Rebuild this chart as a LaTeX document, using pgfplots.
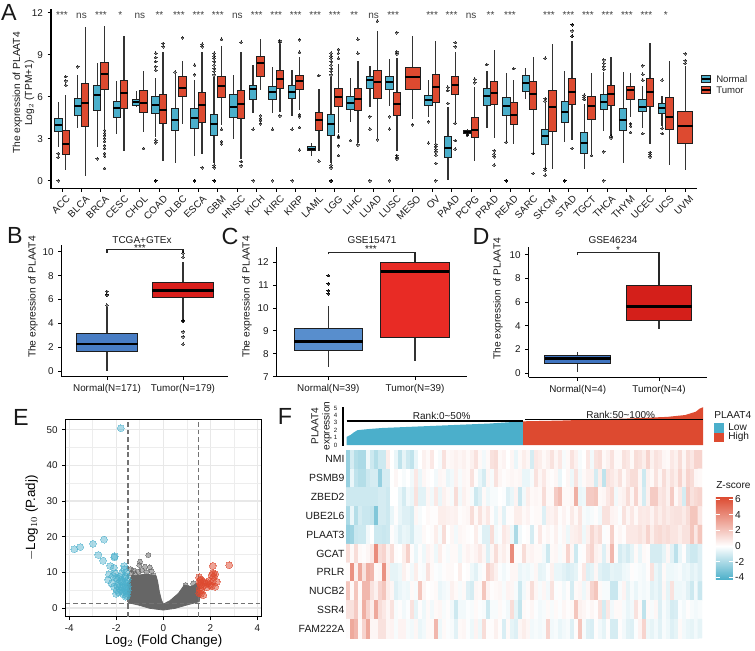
\documentclass[border=0pt]{standalone}
\usepackage{fontspec}
\setmainfont{Liberation Sans}
\usepackage{pgfplots}
\pgfplotsset{compat=1.18}
\usepgfplotslibrary{statistics}
\definecolor{nblue}{RGB}{75,175,203}
\definecolor{tred}{RGB}{221,74,48}
\definecolor{inka}{RGB}{30,30,30}
\newcommand{\pxl}{0.75pt}
\newcommand{\medw}{1.5pt}
\newcommand{\bx}[9]{\addplot[draw=inka,mark=*,mark size=1pt,
    mark options={draw=black,fill=black,opacity=.5,line width=0pt},
    boxplot/draw direction=y,
    boxplot/box extend=#2,boxplot/every box/.style={draw=inka,fill=#3,line width=.75pt},
    boxplot/every median/.style={draw=black,line width=\medw},
    boxplot prepared={draw position={#1},lower whisker=#4,lower quartile=#5,median=#6,upper quartile=#7,upper whisker=#8}]
    coordinates {#9};}
\newcommand{\nbox}[7]{\bx{#1-0.19}{.38}{nblue}{#2}{#3}{#4}{#5}{#6}{#7}}
\newcommand{\tbox}[7]{\bx{#1+0.19}{.38}{tred}{#2}{#3}{#4}{#5}{#6}{#7}}
\newcommand{\onebox}[7]{\bx{#1}{.76}{tred}{#2}{#3}{#4}{#5}{#6}{#7}}
\newcommand{\sg}[2]{\node[font=\fontsize{7.5}{8}\selectfont,text=black!75] at (axis cs:#1,11.8) {#2};}
\pgfplotsset{
  panel/.style={scale only axis,axis lines=left,axis line style={-,line width=.8pt,black},
    tick style={black,line width=.7pt},major tick length=2.5pt,tick align=outside,
    clip=false,
    /pgf/number format/assume math mode=true,
    tick label style={font=\fontsize{7.4}{8}\selectfont,text=black!90},
    label style={font=\fontsize{7.7}{9}\selectfont,text=black!90},
    boxplot/whisker extend=0,
    boxplot/every whisker/.style={line width=1pt,draw=black!80},
  },
  twobox/.style={panel,xtick={0,1},ymajorgrids=false,ylabel={The expression of PLAAT4}},
}
\begin{document}
\begin{tikzpicture}
\useasboundingbox (0,0) rectangle (755*\pxl,-650*\pxl);

% A
\begin{axis}[panel,at={(51*\pxl,-9*\pxl)},anchor=north west,width=646*\pxl,height=179.5*\pxl,
  xmin=-0.565,xmax=32.6,ymin=-0.557,ymax=12.26,
  ytick={0,3,6,9,12},xtick={0,...,32},
  xticklabels={ACC,BLCA,BRCA,CESC,CHOL,COAD,DLBC,ESCA,GBM,HNSC,KICH,KIRC,KIRP,LAML,LGG,LIHC,LUAD,LUSC,MESO,OV,PAAD,PCPG,PRAD,READ,SARC,SKCM,STAD,TGCT,THCA,THYM,UCEC,UCS,UVM},
  xticklabel style={rotate=45,anchor=north east,inner sep=1pt,xshift=1.5pt,yshift=-2.5pt},
  ylabel={The expression of PLAAT4\\Log$_2$ (TPM+1)},
  ylabel style={align=center,at={(axis description cs:-0.0426,0.532)},anchor=center}]
\nbox{0}{2.43}{3.5}{4.0}{4.45}{5.64}{(0,1.95)(0,1.67)(0,0)}
\tbox{0}{0.76}{1.88}{2.62}{3.6}{6.1}{(0,7.43)(0,7.12)(0,6.83)}
\nbox{1}{3.76}{4.69}{5.33}{5.88}{7.55}{(0,8.14)}
\tbox{1}{0.36}{3.9}{5.52}{6.95}{10.95}{}
\nbox{2}{2.38}{5.0}{6.12}{6.83}{8.43}{(0,1.57)}
\tbox{2}{3.74}{6.52}{7.6}{8.45}{11.05}{(0,3.6)(0,3.4)(0,3.2)(0,3.0)(0,2.8)(0,2.5)(0,2.3)(0,1.95)(0,1.76)(0,0.88)}
\nbox{3}{3.33}{4.52}{5.2}{5.69}{7.1}{}
\tbox{3}{2.12}{5.12}{6.24}{7.19}{10.33}{}
\nbox{4}{5.29}{5.36}{5.64}{5.83}{6.4}{}
\tbox{4}{3.5}{4.9}{5.57}{6.43}{7.86}{(0,2.31)}
\nbox{5}{3.14}{4.81}{5.43}{6.02}{7.3}{(0,9.1)(0,8.8)(0,8.5)(0,8.14)(0,7.9)(0,2.9)(0,2.7)(0,0)(0,0)(0,0)}
\tbox{5}{1.43}{4.1}{5.07}{6.19}{9.2}{(0,9.8)(0,9.57)}
\nbox{6}{1.26}{3.55}{4.31}{5.19}{7.6}{(0,7.76)}
\tbox{6}{4.07}{6.02}{6.6}{7.45}{8.57}{(0,10.2)}
\nbox{7}{1.79}{3.76}{4.5}{5.14}{7.19}{(0,8.26)(0,7.57)(0,0)(0,0)(0,0)}
\tbox{7}{1.9}{4.19}{5.4}{6.31}{9.17}{(0,9.74)(0,9.57)(0,0.93)}
\nbox{8}{1.24}{3.26}{4.02}{4.71}{7.4}{(0,9.1)(0,8.9)(0,8.74)(0,8.5)(0,8.26)(0,8.0)(0,7.8)(0,7.55)(0,1.1)(0,0.93)(0,0)(0,0)(0,0)}
\tbox{8}{3.98}{5.95}{6.76}{7.45}{9.62}{(0,10.1)(0,3.67)(0,2.8)(0,2.62)}
\nbox{9}{2.98}{4.48}{5.24}{6.14}{7.57}{}
\tbox{9}{1.55}{4.43}{5.5}{6.45}{9.2}{(0,9.88)(0,1.36)(0,1.07)}
\nbox{10}{4.81}{5.81}{6.52}{6.83}{8.26}{(0,3.67)(0,0)}
\tbox{10}{6.48}{7.43}{8.38}{8.86}{10.12}{(0,4.64)(0,4.45)(0,4.29)(0,4.05)}
\nbox{11}{4.81}{5.81}{6.36}{6.76}{8.14}{(0,3.67)(0,0)}
\tbox{11}{4.93}{6.57}{7.24}{7.86}{9.74}{(0,9.98)(0,9.88)(0,4.62)}
\nbox{12}{4.62}{5.86}{6.36}{6.79}{7.9}{(0,3.67)(0,0)}
\tbox{12}{5.05}{6.52}{7.14}{7.48}{8.86}{(0,10.05)(0,9.17)(0,4.7)(0,4.57)(0,3.8)(0,2.19)}
\nbox{13}{1.79}{2.14}{2.29}{2.45}{2.67}{}
\tbox{13}{2.12}{3.57}{4.33}{4.9}{6.55}{(0,7.5)(0,1.4)}
\nbox{14}{1.24}{3.26}{4.02}{4.71}{7.4}{(0,9.1)(0,8.9)(0,8.74)(0,8.5)(0,8.26)(0,8.0)(0,7.8)(0,7.55)(0,1.1)(0,0.93)(0,0)(0,0)(0,0)}
\tbox{14}{3.38}{5.29}{5.98}{6.6}{8.33}{(0,9.38)(0,9.1)(0,8.74)(0,3.19)(0,3.1)(0,2.48)(0,1.79)}
\nbox{15}{4.17}{5.1}{5.52}{6.0}{7.31}{(0,2.88)}
\tbox{15}{2.67}{5.0}{5.86}{6.6}{8.57}{(0,10.1)(0,9.1)(0,2.55)}
\nbox{16}{5.29}{6.55}{7.19}{7.43}{8.19}{(0,4.57)(0,3.69)(0,0)}
\tbox{16}{3.02}{5.88}{7.05}{7.86}{10.71}{(0,11.4)(0,2.93)}
\nbox{17}{5.33}{6.52}{7.05}{7.43}{8.69}{(0,4.57)(0,3.69)(0,0)}
\tbox{17}{2.14}{4.62}{5.48}{6.29}{8.74}{(0,10.57)(0,9.2)(0,9.05)(0,1.8)(0,1.67)(0,1.55)}
\onebox{18}{4.38}{6.52}{7.4}{8.07}{10.33}{(0,3.98)}
\nbox{19}{4.57}{5.36}{5.76}{6.1}{7.19}{(0,4.21)(0,2.69)}
\tbox{19}{2.79}{5.6}{6.67}{7.55}{9.98}{(0,2.6)(0,2.43)(0,2.24)(0,2.05)(0,1.83)(0,1.24)(0,0)}
\nbox{20}{0.02}{1.64}{2.31}{3.14}{5.29}{(0,6.67)(0,6.43)(0,5.52)}
\tbox{20}{4.21}{6.17}{6.81}{7.43}{9.17}{(0,9.86)(0,9.57)(0,4.1)(0,2.86)(0,2.26)}
\nbox{21}{3.33}{3.4}{3.5}{3.62}{3.7}{(0,3.3)(0,3.25)}
\tbox{21}{1.4}{3.05}{3.62}{4.52}{6.67}{(0,7.24)(0,7.0)}
\nbox{22}{3.74}{5.38}{6.05}{6.55}{7.81}{(0,8.29)}
\tbox{22}{3.07}{5.45}{6.26}{7.07}{9.33}{(0,2.14)(0,1.9)(0,1.7)(0,1.12)}
\nbox{23}{2.79}{4.69}{5.33}{5.95}{7.71}{(0,2.76)(0,0)(0,0)(0,0)}
\tbox{23}{2.64}{4.0}{4.69}{5.55}{7.19}{(0,8.0)}
\nbox{24}{5.83}{6.38}{6.95}{7.5}{8.07}{}
\tbox{24}{1.83}{5.05}{6.19}{7.1}{8.81}{(0,1.95)(0,0.52)}
\nbox{25}{0.93}{2.6}{3.21}{3.69}{5.52}{(0,8.74)(0,5.86)(0,5.69)(0,0.88)(0,0.76)(0,0.4)}
\tbox{25}{0.86}{3.52}{5.24}{6.43}{9.74}{}
\nbox{26}{2.79}{4.14}{4.88}{5.64}{7.86}{(0,0)(0,0)(0,0)}
\tbox{26}{2.9}{5.43}{6.33}{7.31}{10}{(0,11.14)(0,11.14)(0,10.69)(0,10.33)(0,10.33)(0,2.31)}
\nbox{27}{0.81}{1.95}{2.67}{3.45}{5.5}{(0,6.1)(0,5.95)(0,5.8)}
\tbox{27}{1.9}{4.38}{5.33}{6.02}{7.69}{(0,1.79)}
\nbox{28}{3.55}{5.07}{5.64}{6.17}{7.79}{(0,8.62)(0,8.38)(0,8.14)(0,7.95)(0,2.07)(0,0)}
\tbox{28}{3.21}{5.38}{6.21}{6.79}{8.81}{(0,3.19)(0,3.05)}
\nbox{29}{1.26}{3.55}{4.33}{5.19}{7.76}{}
\tbox{29}{4.52}{5.83}{6.48}{6.74}{7.71}{(0,4.05)(0,3.9)(0,3.45)}
\nbox{30}{3.74}{4.93}{5.29}{5.83}{6.76}{(0,8.21)(0,7.6)(0,7.19)(0,3.36)}
\tbox{30}{2.6}{5.29}{6.36}{7.31}{9.86}{(0,2.02)(0,1.88)(0,1.71)}
\nbox{31}{3.9}{4.81}{5.19}{5.48}{6.05}{(0,7.19)(0,3.74)(0,3.36)}
\tbox{31}{1.14}{3.64}{4.57}{5.95}{8.57}{}
\onebox{32}{0.76}{2.64}{3.88}{4.93}{8.21}{(0,9.05)(0,8.57)(0,8.38)}
\sg{0}{***}\sg{1}{ns}\sg{2}{***}\sg{3}{*}\sg{4}{ns}\sg{5}{**}\sg{6}{***}\sg{7}{***}\sg{8}{***}\sg{9}{ns}
\sg{10}{***}\sg{11}{***}\sg{12}{***}\sg{13}{***}\sg{14}{***}\sg{15}{**}\sg{16}{ns}\sg{17}{***}
\sg{19}{***}\sg{20}{***}\sg{21}{ns}\sg{22}{**}\sg{23}{***}\sg{25}{***}\sg{26}{***}\sg{27}{***}\sg{28}{***}\sg{29}{***}\sg{30}{***}\sg{31}{*}
\end{axis}

\renewcommand{\medw}{2pt}
% B
\begin{axis}[twobox,at={(61.7*\pxl,-245*\pxl)},anchor=north west,width=166.6*\pxl,height=131.7*\pxl,
  xmin=-0.596,xmax=1.596,ymin=-0.48,ymax=10.58,ytick={0,2,...,10},
  xticklabels={Normal(N=171),Tumor(N=179)},
  ylabel style={at={(axis description cs:-0.172,0.605)},anchor=center}]
\definecolor{bb}{RGB}{72,125,196}\definecolor{br}{RGB}{217,31,28}
\bx{0}{.807}{bb}{0}{1.6}{2.27}{3.14}{5.35}{(0,5.52)(0,6.39)(0,6.39)(0,6.67)}
\bx{1}{.807}{br}{4.15}{6.13}{6.78}{7.42}{9.13}{(0,9.9)(0,9.55)(0,4.2)(0,4.2)(0,3.3)(0,2.88)(0,2.24)}
\addplot[black!85,line width=.8pt] coordinates {(0,9.9)(0,10.17)(1,10.17)(1,9.9)};
\end{axis}

% C
\begin{axis}[twobox,at={(276.7*\pxl,-246.7*\pxl)},anchor=north west,width=190*\pxl,height=130*\pxl,
  xmin=-0.595,xmax=1.596,ymin=7,ymax=12.68,ytick={7,8,...,12},
  xticklabels={Normal(N=39),Tumor(N=39)},
  ylabel style={at={(axis description cs:-0.156,0.613)},anchor=center}]
\definecolor{cb}{RGB}{88,142,205}\definecolor{cr}{RGB}{232,43,37}
\bx{0}{.79}{cb}{7.43}{8.15}{8.55}{9.1}{10.1}{(0,11.42)(0,11.42)(0,11.06)(0,11.06)(0,10.75)(0,10.75)(0,10.62)(0,10.62)}
\bx{1}{.79}{cr}{7.7}{8.7}{11.6}{12}{12.44}{}
\addplot[black!85,line width=.8pt] coordinates {(0,12.35)(0,12.44)(1,12.44)(1,12.0)};
\end{axis}

% D
\begin{axis}[twobox,at={(528.7*\pxl,-246.7*\pxl)},anchor=north west,width=178.6*\pxl,height=130.6*\pxl,
  xmin=-0.603,xmax=1.594,ymin=-0.34,ymax=10.67,ytick={0,2,...,10},
  xticklabels={Normal(N=4),Tumor(N=4)},
  ylabel style={at={(axis description cs:-0.172,0.6)},anchor=center}]
\definecolor{db}{RGB}{63,116,192}\definecolor{dr}{RGB}{212,31,26}
\bx{0}{.81}{db}{0.14}{0.81}{1.24}{1.49}{1.77}{}
\bx{1}{.81}{dr}{3.7}{4.44}{5.62}{7.42}{7.42}{}
\addplot[black!85,line width=.8pt] coordinates {(0,9.95)(0,10.17)(1,10.17)(1,7.42)};
\end{axis}

% E
\begin{axis}[panel,axis lines=box,at={(65.7*\pxl,-419.3*\pxl)},anchor=north west,width=196*\pxl,height=197.4*\pxl,
  clip=true,xmin=-4.15,xmax=4.18,ymin=-2.43,ymax=52.9,
  xtick={-4,-2,0,2,4},ytick={0,10,...,50},minor x tick num=1,minor y tick num=1,
  minor tick length=0pt,xtick pos=bottom,ytick pos=left,
  grid=both,major grid style={line width=.9pt,black!9},minor grid style={line width=.5pt,black!7},
  axis line style={line width=1pt,black},
  xlabel={Log$_2$ (Fold Change)},ylabel={$-$Log$_{10}$ (P.adj)},
  xlabel style={at={(axis description cs:0.5,-0.123)},anchor=center},
  ylabel style={at={(axis description cs:-0.173,0.5)},anchor=center}]
\addplot[fill=black!60,draw=black!60,line width=.6pt] coordinates {
  (-1.49,1.78)(-1.52,5.05)(-1.47,7.4)(-1.35,9.07)(-1.06,9.25)(-0.71,9.53)(-0.31,9.07)(-0.24,7.38)
  (-0.17,4.58)(-0.08,2.24)(0,1.12)(0.28,2.06)(0.64,4.11)(0.89,6.45)(1.2,6.0)(1.42,6.92)(1.53,6)
  (1.56,3.2)(1.52,1.78)(0.99,0.84)(0.5,-0.09)(0,-0.56)(-0.57,-0.09)(-1.06,0.84)(-1.49,1.5)} \closedcycle;
\addplot[only marks,mark=*,mark size=1.9pt,mark options={draw=black!60,fill=black!60,opacity=.5,line width=0pt}] coordinates {
  (-0.64,14.86)(-0.99,13)(-1.02,12.06)(-1.39,10.93)(-1.27,10.47)(-0.78,11.6)(-0.57,11.4)(-0.92,10.65)
  (-0.5,10.37)(-1.2,9.53)(-1.06,10.19)(-0.71,10)(-0.42,9.07)(-1.35,9.7)(0.95,6.45)(1.27,6.9)};
\addplot[only marks,mark=*,mark size=2.6pt,mark options={draw=nblue,fill=nblue,opacity=.45,line width=0pt}] coordinates {
  (-1.81,50.4)(-3.78,16.5)(-3.53,17.1)(-2.99,18.0)(-2.52,19.2)(-2.76,14.9)(-2.56,13.3)(-2.07,14.5)(-2.08,14.2)
  (-2.25,11.8)(-2.1,11.3)(-1.66,11.8)(-1.67,10.9)(-2.31,9.5)(-2.05,9.7)(-1.77,9.7)(-2.34,7.9)(-2.2,6.9)(-2,8.5)
  (-2.15,9)(-1.9,7)(-1.95,8)(-1.85,6)(-1.8,5)(-1.7,4.5)(-1.6,3.2)(-1.55,3.5)(-2,4)(-1.98,5)(-1.9,4.4)(-1.75,7.5)
  (-1.65,8.5)(-1.6,9)(-1.55,7)(-1.6,6)(-1.52,5)(-1.7,6.5)(-1.8,7.8)(-1.55,4.2)(-1.6,4.8)(-1.65,5.5)(-1.75,5.8)
  (-1.52,6)(-1.52,8)(-2.1,6)(-1.95,6.2)(-1.85,8.8)(-1.62,7.3)(-1.7,3.8)(-1.58,10)};
\addplot[only marks,mark=*,mark size=2.6pt,mark options={draw=tred,fill=tred,opacity=.5,line width=0pt}] coordinates {
  (2.8,12)(2.1,11.8)(2.12,9.7)(2.2,9.5)(2.05,9.2)(2.15,8.8)(1.52,8.6)(1.56,7.7)(1.6,8)(2.27,7.4)(2.1,7.5)(2,6.5)
  (1.9,7)(1.8,6.8)(1.7,6.2)(1.6,6.5)(1.55,5.5)(1.62,5)(1.7,3.6)(1.6,4)(1.75,7.2)(2.2,6)(2.05,6.2)(1.85,5.8)
  (1.55,7)(1.65,7.4)(1.52,4.2)(1.95,7.6)};
\addplot[black!55,line width=.9pt,dash pattern=on 3.5pt off 2.2pt] coordinates {(-1.5,-2.43)(-1.5,52.9)};
\addplot[black!55,line width=.9pt,dash pattern=on 3.5pt off 2.2pt] coordinates {(1.5,-2.43)(1.5,52.9)};
\addplot[black!55,line width=.9pt,dash pattern=on 3.5pt off 2.2pt] coordinates {(-4.15,1.3)(4.18,1.3)};
\end{axis}

% F, ranked expression
\begin{axis}[panel,at={(343*\pxl,-406.5*\pxl)},anchor=north west,width=360*\pxl,height=38.5*\pxl,
  axis x line=none,axis y line=left,y axis line style={-},xmin=-0.0104,xmax=1,ymin=0,ymax=5.2,ytick={0,...,5},
  tick label style={font=\fontsize{4.6}{5}\selectfont},major tick length=1.5pt]
\addplot[fill=nblue,draw=none] coordinates {(0,0)(0,1.1)(0.012,1.4)(0.02,1.7)(0.03,2.0)(0.06,2.15)(0.1,2.3)(0.2,2.5)(0.3,2.7)(0.4,2.9)(0.495,3.2)(0.495,0)} \closedcycle;
\addplot[fill=tred,draw=none] coordinates {(0.495,0)(0.495,3.2)(0.6,3.3)(0.7,3.45)(0.8,3.6)(0.9,3.8)(0.95,4.05)(0.98,4.5)(0.99,4.9)(1,5.1)(1,0)} \closedcycle;
\addplot[black,line width=.9pt] coordinates {(0,3.24)(0.495,3.24)};
\addplot[black,line width=.9pt] coordinates {(0.5,3.47)(1,3.47)};
\end{axis}

% F, heatmap
\begin{axis}[scale only axis,at={(346*\pxl,-450*\pxl)},anchor=north west,width=356*\pxl,height=188*\pxl,
  xmin=-0.5,xmax=88.5,ymin=-0.5,ymax=9.5,y dir=reverse,
  axis line style={draw=none},xtick=\empty,ytick={0,...,9},major tick length=0pt,
  yticklabels={NMI,PSMB9,ZBED2,UBE2L6,PLAAT3,GCAT,PRLR,NUCB2,SSR4,FAM222A},
  yticklabel style={font=\fontsize{7.8}{8}\selectfont,text=black!90,inner sep=1pt},
  colormap={hm}{rgb255(0cm)=(75,175,201); rgb255(4.3cm)=(255,255,255); rgb255(10.6cm)=(220,74,48)},
  point meta min=-4.3,point meta max=6.3,
  colorbar,
  colorbar style={at={(1.039,0.7516)},anchor=north west,width=17*\pxl,height=83*\pxl,
    ytick={-4,-2,0,2,4,6},yticklabel pos=right,axis line style={draw=none},
    tick style={draw=white,line width=.5pt},major tick length=3pt,tick align=inside,
    /pgf/number format/assume math mode=true,
    yticklabel style={font=\fontsize{7.6}{8}\selectfont,inner sep=1.5pt,text=black!90}}]
\addplot[matrix plot*,mesh/cols=89,point meta=explicit]
  table[row sep=\\,header=false,x expr={mod(\coordindex,89)},y expr={floor((\coordindex+0.5)/89)},meta index=0] {
-2.5\\-1\\-1.8\\-2\\-2\\-.4\\-1.2\\-1.8\\-1.2\\-1.2\\.6\\0\\-.5\\-1.5\\-.6\\-1.2\\-1.5\\-.5\\0\\.5\\.2\\.8\\0\\-.2\\1\\.2\\.3\\.5\\.3\\.5\\.2\\
.5\\1\\.2\\-.3\\.2\\1\\1.2\\.2\\.4\\0\\.3\\-.5\\.2\\.6\\.3\\-1\\.8\\.6\\.2\\.5\\1\\.3\\.8\\-.2\\.2\\1\\.5\\-.2\\0\\.8\\
-.3\\1\\1.2\\.2\\.5\\1\\.2\\.2\\1\\.8\\.2\\1.2\\1\\.6\\1.5\\.5\\1\\.8\\.3\\.2\\.8\\.5\\1.2\\.3\\1.2\\.8\\1.5\\1.5\\
-2.5\\-.5\\-1.5\\-1.8\\-1.8\\-1.2\\-1\\-1\\-2.5\\-1\\-1\\0\\.3\\0\\-.2\\0\\-.3\\.8\\-.5\\.3\\.1\\0\\-.3\\.3\\.2\\-.5\\-.3\\.5\\-.2\\.3\\.2\\
1\\.1\\-.5\\-1\\.3\\-.2\\1\\.3\\.1\\.2\\.3\\.2\\.3\\-.5\\-.5\\-.2\\1\\.3\\.8\\.2\\.1\\.3\\-.5\\0\\.3\\-.4\\1\\-.3\\.2\\.5\\
.5\\-1\\.6\\-1.5\\1\\.8\\.5\\1\\.2\\.8\\1.2\\1.2\\.3\\-1.2\\.5\\.2\\1\\.3\\1.2\\.5\\1\\.6\\1.5\\.5\\1.5\\1.2\\.3\\.2\\
-1.2\\-1.2\\-1.2\\-1.2\\-1.2\\-1.2\\-1.2\\-1.2\\-1\\-1\\-1.2\\0\\0\\-.5\\-1\\-.3\\-.5\\1\\-.7\\-.7\\.3\\-.3\\.8\\-.5\\.5\\.2\\-.2\\1.2\\-.3\\.5\\.2\\
-.2\\-1.2\\-.8\\.2\\-.4\\-.2\\-.2\\0\\-.1\\-.8\\-.5\\.4\\-1.3\\-.3\\.6\\.2\\.3\\.2\\1.2\\.2\\.2\\1.8\\2.3\\.2\\.2\\.3\\2.8\\-.5\\-.4\\1.8\\
1.8\\2\\.2\\.3\\.8\\1.3\\-.3\\.3\\.5\\1.2\\.3\\1.5\\.3\\-1\\.5\\1.8\\1.8\\.8\\1\\.5\\1.8\\.2\\.8\\-1\\1.8\\1\\1.3\\1.5\\
-2\\-.5\\-1.8\\-1\\-1.3\\-1.3\\-1.4\\-3\\-1\\-1\\-1.2\\-.5\\.1\\-.5\\-.8\\-.8\\-1\\.3\\-.2\\0\\.2\\.1\\.1\\.6\\.6\\.5\\.4\\.5\\.1\\.2\\.3\\
1.2\\.2\\1\\.3\\.8\\.1\\-.5\\.2\\-.7\\.1\\.1\\.6\\.6\\.2\\.4\\.1\\.2\\.2\\-.8\\.5\\.4\\.7\\.1\\.4\\.1\\.7\\.2\\.9\\-.2\\-.3\\
-.2\\.1\\-.3\\1\\1\\.4\\.3\\-.1\\1\\.3\\.8\\.2\\.8\\.7\\.8\\.4\\1\\.6\\1\\.7\\.9\\1\\1\\.7\\1.2\\2\\2\\.8\\
-2.5\\-2.3\\-1.3\\-1.2\\-1.2\\-.3\\0\\-1.2\\-1.2\\-1.3\\-1.2\\.1\\-.3\\-.8\\-.5\\-.6\\-1\\-.3\\-.3\\.2\\0\\.1\\.6\\-.2\\1.2\\0\\.3\\-.3\\.3\\.2\\.1\\
0\\.6\\-.1\\-.8\\-.8\\1.2\\-.3\\-.1\\.8\\.5\\-.4\\-2\\-.3\\0\\.1\\-1\\.1\\.8\\.1\\.3\\.1\\.5\\-.1\\.3\\-.4\\.5\\.6\\.8\\-.4\\.5\\
1.4\\.8\\1.2\\-.1\\.1\\1.6\\.1\\.3\\.1\\.8\\.8\\.8\\1\\.7\\1.5\\.6\\1.2\\1.3\\1\\1.2\\.9\\.9\\.6\\1\\1\\2\\.8\\2\\
1.2\\.2\\1.2\\.2\\.1\\.3\\.8\\4\\1.2\\1.5\\.5\\1.2\\.1\\0\\.6\\1.6\\.1\\-.5\\.1\\-.4\\.4\\.2\\-.4\\.6\\.1\\-.2\\.2\\.2\\-.4\\.2\\.4\\
.2\\.4\\.8\\.3\\-.8\\.3\\1.2\\.3\\.6\\.2\\4\\.1\\.1\\1.2\\.3\\.4\\.2\\.2\\-.3\\-1.2\\.2\\.3\\-.2\\.2\\1.5\\.3\\-1.2\\-.1\\.1\\1\\
1.5\\.5\\.3\\-.8\\.3\\2.5\\.1\\-1\\-.7\\-1\\-.6\\.2\\-.5\\.2\\.1\\-1\\-1\\-1\\-.6\\.3\\-.7\\-1.6\\-.5\\.1\\-.9\\-1.2\\-1.2\\-.8\\
.1\\3.8\\.5\\3\\1\\2.8\\2.5\\.2\\.3\\3.8\\.6\\-.6\\-.6\\-.4\\.5\\.1\\-.3\\.6\\-.1\\-.2\\1\\.2\\-.1\\-.2\\.1\\.2\\.2\\0\\.6\\0\\.1\\
-.4\\-.7\\-.2\\.1\\1.6\\1\\.5\\-.1\\-.3\\-.1\\.3\\.3\\-.5\\-.3\\-.4\\-.2\\.3\\-.6\\-.5\\-.1\\.5\\-.5\\-.5\\-.7\\-.9\\-.8\\-.6\\.1\\.8\\-.8\\
-.6\\.3\\-.7\\-.9\\-.9\\-.6\\-.7\\-.7\\-.4\\-.3\\.1\\-.1\\-.2\\-.3\\.1\\1\\-.5\\-.8\\.2\\-.4\\-.4\\-.3\\-.2\\-.5\\-.4\\-.7\\-.5\\-.8\\
2\\.2\\2\\.2\\2.5\\2.5\\1\\.5\\1.5\\2\\.6\\.3\\-.8\\-.5\\-.3\\-.4\\.2\\-.2\\2\\.3\\0\\.1\\.2\\-.5\\-.3\\-.2\\.5\\.2\\-.2\\.2\\-.8\\
-1\\.3\\.2\\2\\.4\\.1\\.2\\.3\\-.2\\.4\\.3\\-.2\\-1.2\\-.3\\.2\\1.2\\.3\\-.2\\.3\\-.3\\1\\-.1\\.1\\-.3\\.1\\-1\\.2\\.3\\-.4\\.3\\
1.5\\2\\.2\\-.2\\-.2\\-1.3\\-1.3\\-.2\\.4\\-.6\\-.2\\-.5\\-.2\\-.3\\-.2\\-.7\\-.5\\-.8\\.3\\-.6\\1\\-.4\\-.4\\-.3\\-.7\\-1.2\\-.3\\-1.3\\
1\\1\\1.8\\.3\\2.8\\1.5\\.6\\3\\1.2\\.8\\.3\\1\\-.2\\.1\\-.3\\-.1\\1\\-.6\\.1\\-.4\\.2\\-.3\\.2\\.3\\-.2\\.1\\-.3\\-1.2\\-.3\\-.3\\-.1\\
-.2\\.2\\-.1\\-.2\\-1.2\\-.2\\-.2\\.2\\-.1\\-.3\\1.2\\-.6\\-1.4\\.2\\.1\\.3\\-.1\\-.3\\-.2\\.2\\-.2\\.2\\-.1\\.3\\.1\\.2\\2\\.5\\.3\\.1\\
.3\\.1\\1\\-1\\.8\\-.3\\.2\\.2\\-.2\\-.5\\-.3\\1\\.2\\-1.5\\.2\\-.2\\.3\\-.8\\-.2\\-.5\\-1\\-.9\\-.1\\-.3\\.1\\-.2\\-.3\\-.2\\
.1\\3\\2.5\\.2\\1.5\\3\\.3\\.3\\1\\1\\.3\\.4\\-.2\\.4\\.4\\-.2\\-.3\\.3\\-.5\\-.3\\.2\\.2\\2.5\\-.4\\.2\\-.1\\-.2\\-.7\\.2\\.3\\-.1\\
-.4\\.4\\-.4\\1.2\\.1\\.1\\.5\\.1\\-.9\\.2\\-.6\\-.8\\.3\\.6\\.3\\-.3\\-.2\\-.3\\-.2\\1.5\\-.3\\-.2\\-.5\\-.3\\-.2\\-.8\\.1\\2\\-.2\\-.8\\
-.9\\.1\\-.3\\-.6\\.1\\-1\\-1\\.1\\-.3\\-.7\\-.8\\-.1\\.4\\1.5\\-.4\\-.6\\-.3\\-.7\\-.2\\-.4\\-.8\\-.6\\.2\\-.3\\-.5\\-.6\\-.3\\-.6\\
};
\end{axis}

% text placed at picture positions
\def\lab#1#2#3{\node[font=\fontsize{17.5}{18}\selectfont,text=black!90,anchor=center] at (#1*\pxl,-#2*\pxl) {#3};}
\lab{9}{12}{A}\lab{15}{235}{B}\lab{230}{236}{C}\lab{481}{236}{D}\lab{21}{417}{E}\lab{285}{416}{F}
\def\ttl#1#2#3{\node[font=\fontsize{7.5}{8}\selectfont,text=black!90,anchor=center] at (#1*\pxl,-#2*\pxl) {#3};}
\ttl{142}{240}{TCGA+GTEx}\ttl{140}{248}{***}
\ttl{372}{240}{GSE15471}\ttl{371}{249}{***}
\ttl{613}{240}{GSE46234}\ttl{618}{250}{*}
\ttl{441.7}{416}{Rank:0\char`~50\%}\ttl{620.7}{415}{Rank:50\char`~100\%}
\node[font=\fontsize{7.6}{8.5}\selectfont,text=black!90,rotate=90,align=center] at (321.5*\pxl,-426*\pxl) {PLAAT4\\expression};
% A legend
\foreach \yy/\cc/\lb in {79/nblue/Normal,90/tred/Tumor}{
  \draw[line width=.7pt] (706.2*\pxl,-\yy*\pxl+4.2*\pxl) -- (706.2*\pxl,-\yy*\pxl-4.2*\pxl);
  \draw[fill=\cc,draw=inka,line width=.7pt] (701.7*\pxl,-\yy*\pxl+3.2*\pxl) rectangle (710.7*\pxl,-\yy*\pxl-3.2*\pxl);
  \draw[line width=.8pt] (701.7*\pxl,-\yy*\pxl) -- (710.7*\pxl,-\yy*\pxl);
  \node[font=\fontsize{7.2}{8}\selectfont,text=black!85,anchor=west,inner sep=0pt] at (716*\pxl,-\yy*\pxl) {\lb};
}
% F legends
\node[font=\fontsize{7.6}{8}\selectfont,text=black!90,anchor=west,inner sep=0pt] at (714*\pxl,-415*\pxl) {PLAAT4};
\fill[nblue] (714*\pxl,-423*\pxl) rectangle (724*\pxl,-433*\pxl);
\fill[tred] (714*\pxl,-433*\pxl) rectangle (724*\pxl,-442*\pxl);
\node[font=\fontsize{7.6}{8}\selectfont,text=black!90,anchor=west,inner sep=0pt] at (728*\pxl,-427.5*\pxl) {Low};
\node[font=\fontsize{7.6}{8}\selectfont,text=black!90,anchor=west,inner sep=0pt] at (728*\pxl,-437*\pxl) {High};
\node[font=\fontsize{7.6}{8}\selectfont,text=black!90,anchor=west,inner sep=0pt] at (716*\pxl,-485*\pxl) {Z{-}score};
\end{tikzpicture}
\end{document}
